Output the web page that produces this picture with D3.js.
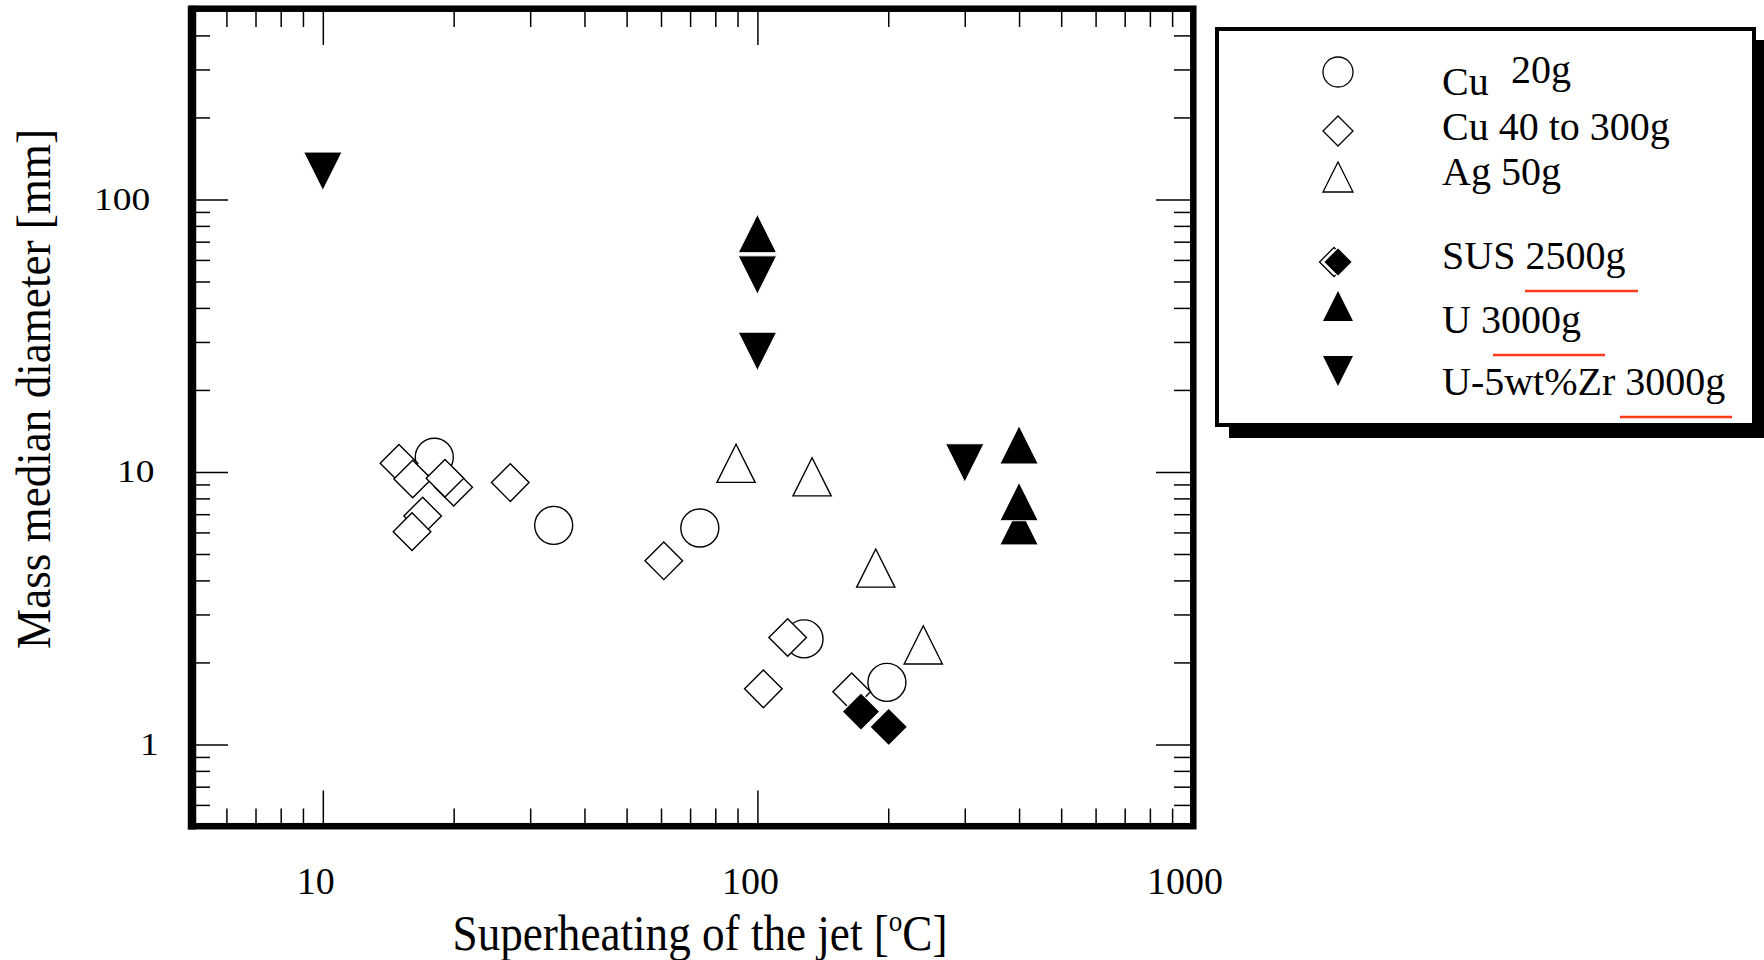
<!DOCTYPE html>
<html><head><meta charset="utf-8">
<script src="https://cdn.jsdelivr.net/npm/d3@7"></script>
<style>
body{margin:0;background:#fff}
svg{display:block}
text{font-family:"Liberation Serif","Times New Roman",serif;fill:#000}
</style>
</head><body>
<svg id="c" width="1764" height="960"></svg>
<script>
// ---- data (superheating [°C], mass median diameter [mm]) ----
const cuSmall = [[18.05,11.32],[33.98,6.37],[73.7,6.23],[128,2.44],[198.6,1.69]];
const cuLarge = [[14.97,10.76],[16.1,9.42],[20.0,8.79],[19.1,9.48],[27.0,9.14],[16.97,6.89],[16.04,6.04],[60.9,4.72],[117.4,2.47],[103.2,1.60],[164.8,1.56]];
const ag = [[89.3,10.76],[133.6,9.60],[187.2,4.44],[240.8,2.32]];
const sus = [[173.1,1.32],[200.5,1.16]];
const uMetal = [[100,75.0],[400,12.58],[400,6.35],[400,7.79]];
const uZr = [[10,126.9],[100,52.8],[100,27.7],[300,10.79]];
const xMajor = [10,100,1000];
const yMajor = [1,10,100];
const xLabel = "Superheating of the jet [";
const yLabel = "Mass median diameter [mm]";
const legendItems = [
  {shape:"circle", label:"Cu", extra:"20g"},
  {shape:"diamond", label:"Cu 40 to 300g"},
  {shape:"triUp", label:"Ag 50g"},
  {shape:"susDiamond", label:"SUS 2500g", under:[1525,1638]},
  {shape:"triUpFill", label:"U 3000g", under:[1493,1605]},
  {shape:"triDownFill", label:"U-5wt%Zr 3000g", under:[1620,1732]}
];

const svg = d3.select("#c");
const L=192, R=1192, T=9, B=826.5;
const x = d3.scaleLog().domain([5,1000]).range([L,R]);
const y = d3.scaleLog().domain([0.5,500]).range([B,T]);

const isMajor = v => Math.abs(Math.log10(v) - Math.round(Math.log10(v))) < 1e-9;
const xMinor = x.ticks().filter(v => !isMajor(v));
const yMinor = y.ticks().filter(v => !isMajor(v));

function axisG(axis, tx, ty){
  const g = svg.append("g").attr("transform",`translate(${tx},${ty})`).call(axis);
  g.select(".domain").remove();
  g.selectAll(".tick line").attr("stroke","#000").attr("stroke-width",1.5);
  g.selectAll(".tick text").remove();
  return g;
}
const mn=18, mj=36;
axisG(d3.axisBottom(x).tickValues(xMinor).tickSizeInner(-mn).tickSizeOuter(0), 0, B);
axisG(d3.axisBottom(x).tickValues(xMajor).tickSizeInner(-mj).tickSizeOuter(0), 0, B);
axisG(d3.axisTop(x).tickValues(xMinor).tickSizeInner(-mn).tickSizeOuter(0), 0, T);
axisG(d3.axisTop(x).tickValues(xMajor).tickSizeInner(-mj).tickSizeOuter(0), 0, T);
axisG(d3.axisLeft(y).tickValues(yMinor).tickSizeInner(-mn).tickSizeOuter(0), L, 0);
axisG(d3.axisLeft(y).tickValues(yMajor).tickSizeInner(-mj).tickSizeOuter(0), L, 0);
axisG(d3.axisRight(y).tickValues(yMinor).tickSizeInner(-mn).tickSizeOuter(0), R, 0);
axisG(d3.axisRight(y).tickValues(yMajor).tickSizeInner(-mj).tickSizeOuter(0), R, 0);

// frame
svg.append("rect").attr("x",L).attr("y",T-0.3).attr("width",R-L+1.3).attr("height",B-T)
  .attr("fill","none").attr("stroke","#000").attr("stroke-width",6.5);
svg.append("line").attr("x1",L).attr("x2",L).attr("y1",T-3.3).attr("y2",B+3)
  .attr("stroke","#000").attr("stroke-width",8.5);

// tick labels
svg.append("g").selectAll("text").data(xMajor).join("text")
  .attr("x",d=>x(d)-7).attr("y",894).attr("text-anchor","middle")
  .attr("font-size",38).text(d=>d3.format("d")(d));
svg.append("g").selectAll("text").data(yMajor).join("text")
  .attr("transform",d=>{const s=d3.format("d")(d); return `translate(${163-4.3*s.length},${y(d)+10.5}) scale(1.17,1)`;})
  .attr("text-anchor","end").attr("font-size",32).text(d=>d3.format("d")(d));

// axis titles
const xt = svg.append("text").attr("text-anchor","middle").attr("font-size",50);
xt.append("tspan").text(xLabel);
xt.append("tspan").attr("font-size",30).attr("dy",-19).text("o");
xt.append("tspan").attr("dy",19).text("C]");
{ const w = xt.node().getComputedTextLength(); xt.attr("transform",`translate(700,950) scale(${495/w},1)`); }
const yt = svg.append("text").attr("text-anchor","middle").attr("font-size",48).text(yLabel);
{ const w = yt.node().getComputedTextLength(); yt.attr("transform",`translate(50,389) rotate(-90) scale(${520/w},1)`); }

// marker shapes
const shapes = {
  circle: s => `M${s},0A${s},${s} 0 1,1 ${-s},0A${s},${s} 0 1,1 ${s},0Z`,
  diamond: s => `M0,${-s}L${s},0L0,${s}L${-s},0Z`,
  triUp: s => `M0,${-s}L${s},${s}L${-s},${s}Z`,
  triDown: s => `M0,${s}L${s},${-s}L${-s},${-s}Z`
};
const plot = svg.append("g");
function series(data, shape, s, fill, stroke, sw){
  plot.append("g").selectAll("path").data(data).join("path")
    .attr("transform",d=>`translate(${x(d[0])},${y(d[1])})`)
    .attr("d",shapes[shape](s))
    .attr("fill",fill).attr("stroke",stroke).attr("stroke-width",sw);
}
series(cuSmall,"circle",19,"#fff","#000",1.4);
series(cuLarge,"diamond",18.8,"#fff","#000",1.4);
series(ag,"triUp",19.1,"#fff","#000",1.4);
series(sus,"diamond",18.8,"#000","#fff",1.2);
series(uMetal,"triUp",19.2,"#000","#fff",1);
series(uZr,"triDown",19.2,"#000","#fff",1);

// legend
const lg = svg.append("g");
lg.append("rect").attr("x",1229).attr("y",40).attr("width",537).attr("height",398).attr("fill","#000");
lg.append("rect").attr("x",1217).attr("y",29).attr("width",537).attr("height",396)
  .attr("fill","#fff").attr("stroke","#000").attr("stroke-width",4);
const rowY = [72,131,177,262,306,371];
const textY = [95,140,185,269,333,395];
const mx = 1338;
legendItems.forEach((it,i)=>{
  const g = lg.append("g").attr("transform",`translate(${mx},${rowY[i]})`);
  if(it.shape==="circle") g.append("path").attr("d",shapes.circle(15)).attr("fill","#fff").attr("stroke","#000").attr("stroke-width",1.3);
  if(it.shape==="diamond") g.append("path").attr("d",shapes.diamond(15)).attr("fill","#fff").attr("stroke","#000").attr("stroke-width",1.3);
  if(it.shape==="triUp") g.append("path").attr("d",shapes.triUp(15)).attr("fill","#fff").attr("stroke","#000").attr("stroke-width",1.3);
  if(it.shape==="susDiamond"){
    g.append("path").attr("d",shapes.diamond(14.5)).attr("transform","translate(-4,0)").attr("fill","#fff").attr("stroke","#000").attr("stroke-width",1.3);
    g.append("path").attr("d",shapes.diamond(14.5)).attr("fill","#000").attr("stroke","#fff").attr("stroke-width",1.2);
  }
  if(it.shape==="triUpFill") g.append("path").attr("d",shapes.triUp(15)).attr("fill","#000");
  if(it.shape==="triDownFill") g.append("path").attr("d",shapes.triDown(15)).attr("fill","#000");
  lg.append("text").attr("x",1442).attr("y",textY[i]).attr("font-size",40).text(it.label);
  if(it.extra) lg.append("text").attr("x",1511).attr("y",83).attr("font-size",40).text(it.extra);
  if(it.under){
    lg.append("line").attr("x1",it.under[0]).attr("x2",it.under[1])
      .attr("y1",textY[i]+22).attr("y2",textY[i]+22).attr("stroke","#ff3b1a").attr("stroke-width",2.5);
  }
});
</script>
</body></html>
